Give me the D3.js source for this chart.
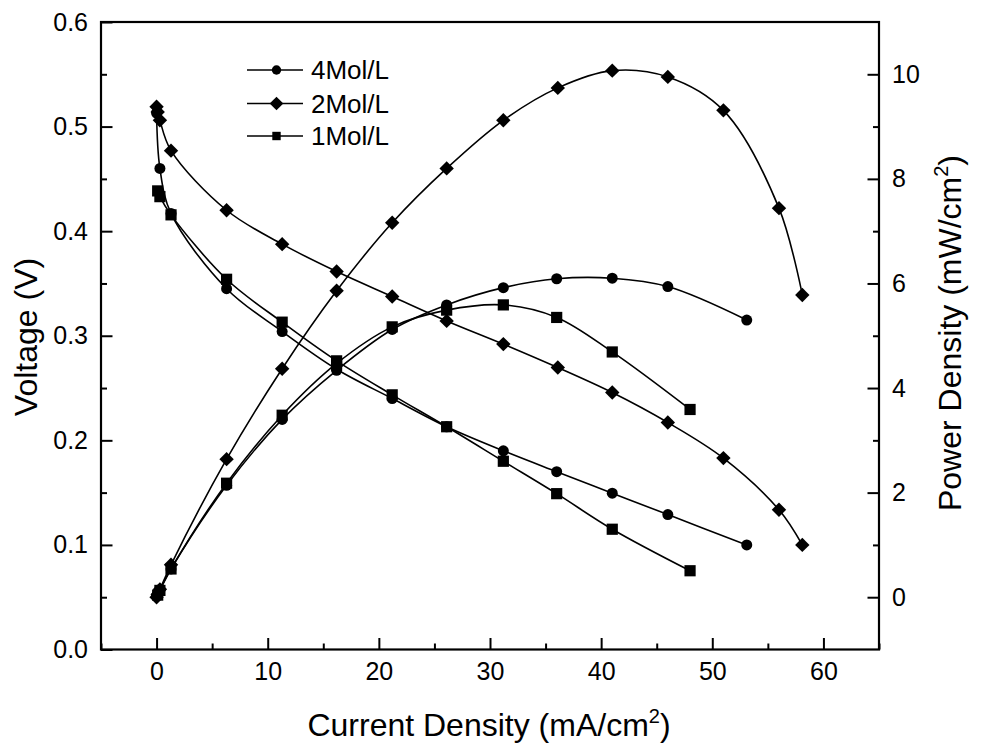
<!DOCTYPE html>
<html>
<head>
<meta charset="utf-8">
<script src="https://cdn.jsdelivr.net/npm/d3@7/dist/d3.min.js"></script>
<style>
  html, body { margin: 0; padding: 0; background: #fff; }
  svg { display: block; font-family: "Liberation Sans", Arial, sans-serif; }
</style>
</head>
<body>
<svg id="chart" width="981" height="755"></svg>
<script>
// ---- data ----
const seriesNames = ["4Mol/L", "2Mol/L", "1Mol/L"];
const markerTypes = ["circle", "diamond", "square"];

const current4 = [0, 0.3, 1.3, 6.3, 11.3, 16.2, 21.2, 26.1, 31.2, 36.0, 41.0, 46.0, 53.1];
const voltage4 = [0.513, 0.460, 0.417, 0.345, 0.304, 0.268, 0.240, 0.213, 0.190, 0.170, 0.1495, 0.129, 0.100];
const power4   = [0.03, 0.14, 0.54, 2.14, 3.40, 4.34, 5.12, 5.59, 5.92, 6.09, 6.10, 5.94, 5.30];

const current2 = [0, 0.1, 0.3, 1.3, 6.3, 11.3, 16.2, 21.2, 26.1, 31.2, 36.1, 41.0, 46.0, 51.0, 56.0, 58.1];
const voltage2 = [0.519, 0.514, 0.506, 0.477, 0.420, 0.3876, 0.3614, 0.3375, 0.3142, 0.292, 0.2696, 0.2457, 0.217, 0.183, 0.1336, 0.100];
const power2   = [0, 0.05, 0.15, 0.62, 2.64, 4.37, 5.86, 7.16, 8.20, 9.12, 9.74, 10.07, 9.95, 9.31, 7.44, 5.78];

const current1 = [0.1, 0.3, 1.3, 6.3, 11.3, 16.2, 21.2, 26.1, 31.2, 36.0, 41.0, 48.0];
const voltage1 = [0.4385, 0.433, 0.4156, 0.354, 0.313, 0.276, 0.2435, 0.213, 0.180, 0.149, 0.115, 0.0753];
const power1   = [0.04, 0.13, 0.54, 2.18, 3.48, 4.47, 5.17, 5.49, 5.59, 5.35, 4.69, 3.59];

const xTicks = [0, 10, 20, 30, 40, 50, 60];
const vTicks = [0.0, 0.1, 0.2, 0.3, 0.4, 0.5, 0.6];
const pTicks = [0, 2, 4, 6, 8, 10];

const currents = [current4, current2, current1];
const voltages = [voltage4, voltage2, voltage1];
const powers = [power4, power2, power1];

// ---- layout ----
const svg = d3.select("#chart");
const L = 101, R = 879, T = 22, B = 649.5;

const x = d3.scaleLinear().domain([-5, 65]).range([L, R]);
const yV = d3.scaleLinear().domain([0, 0.6]).range([B, T]);
const yP = d3.scaleLinear().domain([-1, 11]).range([B, T]);

const tickFont = "25px";

function styleAxis(g) {
  g.selectAll(".domain").remove();
  g.selectAll("line").attr("stroke", "#000").attr("stroke-width", 2);
  g.selectAll("text").attr("fill", "#000").style("font-size", tickFont);
}

// bottom
svg.append("g").attr("transform", `translate(0,${B})`)
  .call(d3.axisBottom(x).tickValues(xTicks).tickSizeInner(-11.5).tickSizeOuter(0).tickPadding(13).tickFormat(d3.format("d")))
  .call(styleAxis);
svg.append("g").attr("transform", `translate(0,${B})`)
  .call(d3.axisBottom(x).tickValues(d3.range(-5, 66, 10)).tickSizeInner(-6).tickSizeOuter(0).tickFormat(""))
  .call(styleAxis);

// left
svg.append("g").attr("transform", `translate(${L},0)`)
  .call(d3.axisLeft(yV).tickValues(vTicks).tickSizeInner(-11.5).tickSizeOuter(0).tickPadding(13).tickFormat(d3.format(".1f")))
  .call(styleAxis);
svg.append("g").attr("transform", `translate(${L},0)`)
  .call(d3.axisLeft(yV).tickValues([0.05, 0.15, 0.25, 0.35, 0.45, 0.55]).tickSizeInner(-6).tickSizeOuter(0).tickFormat(""))
  .call(styleAxis);

// right
svg.append("g").attr("transform", `translate(${R},0)`)
  .call(d3.axisRight(yP).tickValues(pTicks).tickSizeInner(-11.5).tickSizeOuter(0).tickPadding(13).tickFormat(d3.format("d")))
  .call(styleAxis);
svg.append("g").attr("transform", `translate(${R},0)`)
  .call(d3.axisRight(yP).tickValues([1, 3, 5, 7, 9]).tickSizeInner(-6).tickSizeOuter(0).tickFormat(""))
  .call(styleAxis);

// frame
svg.append("rect").attr("x", L).attr("y", T).attr("width", R - L).attr("height", B - T)
  .attr("fill", "none").attr("stroke", "#000").attr("stroke-width", 2.2);

// ---- curves ----
const curve = d3.curveCatmullRom.alpha(0.5);
const plot = svg.append("g");

function marker(g, type, cx, cy, s) {
  if (type === "circle") {
    g.append("circle").attr("cx", cx).attr("cy", cy).attr("r", 5.5 * s).attr("fill", "#000");
  } else if (type === "square") {
    const h = 5.6 * s;
    g.append("rect").attr("x", cx - h).attr("y", cy - h).attr("width", 2 * h).attr("height", 2 * h).attr("fill", "#000");
  } else {
    const h = 7.2 * s;
    g.append("path").attr("d", `M${cx},${cy - h}L${cx + h},${cy}L${cx},${cy + h}L${cx - h},${cy}Z`).attr("fill", "#000");
  }
}

seriesNames.forEach((name, i) => {
  const cur = currents[i];
  const vData = cur.map((c, j) => [c, voltages[i][j]]);
  const pData = cur.map((c, j) => [c, powers[i][j]]);
  const lineV = d3.line().x(d => x(d[0])).y(d => yV(d[1])).curve(curve);
  const lineP = d3.line().x(d => x(d[0])).y(d => yP(d[1])).curve(curve);
  plot.append("path").attr("d", lineV(vData)).attr("fill", "none").attr("stroke", "#000").attr("stroke-width", 1.6);
  plot.append("path").attr("d", lineP(pData)).attr("fill", "none").attr("stroke", "#000").attr("stroke-width", 1.6);
  vData.forEach(d => marker(plot, markerTypes[i], x(d[0]), yV(d[1]), 1));
  pData.forEach(d => marker(plot, markerTypes[i], x(d[0]), yP(d[1]), 1));
});

// ---- legend ----
const leg = svg.append("g");
const legY = [70, 103.5, 136];
const legScale = [0.85, 0.95, 0.75];
seriesNames.forEach((name, i) => {
  leg.append("line").attr("x1", 247).attr("x2", 303).attr("y1", legY[i]).attr("y2", legY[i])
    .attr("stroke", "#000").attr("stroke-width", 1.6);
  marker(leg, markerTypes[i], 276.5, legY[i], legScale[i]);
  leg.append("text").attr("x", 311).attr("y", legY[i] + 9).text(name)
    .style("font-size", "26px").attr("fill", "#000");
});

// ---- titles ----
svg.append("text").attr("x", 489).attr("y", 736).attr("text-anchor", "middle")
  .style("font-size", "32px").attr("fill", "#000")
  .call(t => {
    t.append("tspan").text("Current Density (mA/cm");
    t.append("tspan").text("2").style("font-size", "20px").attr("dy", -13);
    t.append("tspan").text(")").attr("dy", 13);
  });

svg.append("text").attr("transform", "translate(37,337) rotate(-90)").attr("text-anchor", "middle")
  .style("font-size", "32px").attr("fill", "#000").text("Voltage (V)");

svg.append("text").attr("transform", "translate(961,333) rotate(-90)").attr("text-anchor", "middle")
  .style("font-size", "32px").attr("fill", "#000")
  .call(t => {
    t.append("tspan").text("Power Density (mW/cm");
    t.append("tspan").text("2").style("font-size", "20px").attr("dy", -13);
    t.append("tspan").text(")").attr("dy", 13);
  });
</script>
</body>
</html>
